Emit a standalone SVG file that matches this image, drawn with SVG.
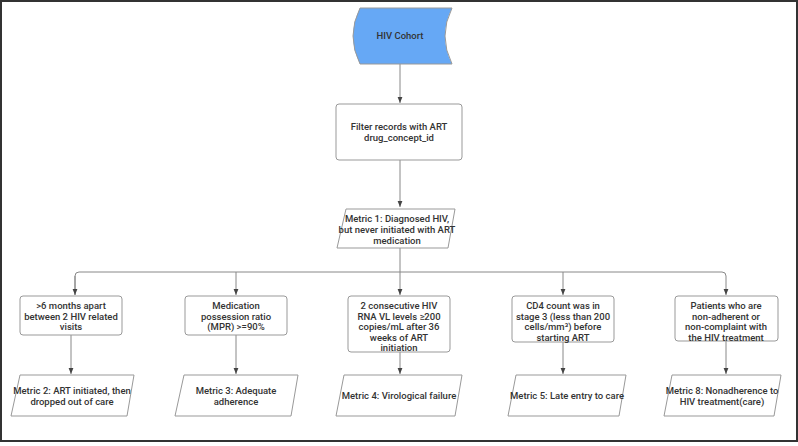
<svg xmlns="http://www.w3.org/2000/svg" width="798" height="446" viewBox="0 0 798 446">
<defs>
<style>
.n{fill:#fff;stroke:#999;stroke-width:1}
.t{font-family:Roboto,"Liberation Sans",sans-serif;font-size:9.5px;font-weight:500;fill:#333;text-anchor:middle}
.c{fill:none;stroke:#888;stroke-width:1}
</style>
<marker id="a" viewBox="0 0 10 10" refX="10" refY="5" markerWidth="6" markerHeight="6" orient="auto"><path d="M0,1 L10,5 L0,9 z" fill="#444"/></marker>
</defs>
<rect x="1" y="1" width="796" height="440" fill="#fff" stroke="#333" stroke-width="2"/>
<g id="connectors">
<path class="c" d="M400,64 V103" marker-end="url(#a)"/>
<path class="c" d="M400,160 V207" marker-end="url(#a)"/>
<path class="c" d="M400,248 V272"/>
<path class="c" d="M75,295 V276 Q75,272 79,272 H722 Q726,272 726,276 V295" marker-end="url(#a)"/>
<path class="c" d="M75,276 V295" marker-end="url(#a)"/>
<path class="c" d="M236,272 V295" marker-end="url(#a)"/>
<path class="c" d="M400,272 V295" marker-end="url(#a)"/>
<path class="c" d="M563,272 V295" marker-end="url(#a)"/>
<path class="c" d="M71,335 V374" marker-end="url(#a)"/>
<path class="c" d="M236,335 V374" marker-end="url(#a)"/>
<path class="c" d="M400,352 V374" marker-end="url(#a)"/>
<path class="c" d="M563,342 V374" marker-end="url(#a)"/>
<path class="c" d="M726,341 V374" marker-end="url(#a)"/>
</g>
<g id="cohort"><path d="M360,8 H452 Q438,36 452,64 H360 Q346,36 360,8 Z" fill="#66a8f5" stroke="#999"/><text class="t" x="400" y="39">HIV Cohort</text></g>
<g id="filter"><rect class="n" x="336" y="104" width="126" height="56" rx="3"/><text class="t" x="399" y="130">Filter records with ART</text><text class="t" x="399" y="141">drug_concept_id</text></g>
<g id="m1"><path class="n" d="M346,209 H455 L448,248 H337 Z"/><text class="t" x="397" y="222">Metric 1: Diagnosed HIV,</text><text class="t" x="397" y="233">but never initiated with ART</text><text class="t" x="397" y="244">medication</text></g>
<g id="b1"><rect class="n" x="20" y="296" width="102" height="39" rx="3"/><text class="t" x="71" y="309">&gt;6 months apart</text><text class="t" x="71" y="319.5">between 2 HIV related</text><text class="t" x="71" y="330">visits</text></g>
<g id="b2"><rect class="n" x="185" y="296" width="102" height="39" rx="3"/><text class="t" x="236" y="309">Medication</text><text class="t" x="236" y="319.5">possession ratio</text><text class="t" x="236" y="330">(MPR) &gt;=90%</text></g>
<g id="b3"><rect class="n" x="348" y="296" width="102" height="56" rx="3"/><text class="t" x="399" y="309">2 consecutive HIV</text><text class="t" x="399" y="319.5">RNA VL levels ≥200</text><text class="t" x="399" y="330">copies/mL after 36</text><text class="t" x="399" y="340.5">weeks of ART</text><text class="t" x="399" y="351">initiation</text></g>
<g id="b4"><rect class="n" x="512" y="296" width="102" height="46" rx="3"/><text class="t" x="563" y="309">CD4 count was in</text><text class="t" x="563" y="319.5">stage 3 (less than 200</text><text class="t" x="563" y="330">cells/mm³) before</text><text class="t" x="563" y="340.5">starting ART</text></g>
<g id="b5"><rect class="n" x="675" y="296" width="103" height="45" rx="3"/><text class="t" x="726" y="309">Patients who are</text><text class="t" x="726" y="319.5">non-adherent or</text><text class="t" x="726" y="330">non-complaint with</text><text class="t" x="726" y="340.5">the HIV treatment</text></g>
<g id="m2"><path class="n" d="M20,375 H134 L127,416 H11 Z"/><text class="t" x="72" y="394">Metric 2: ART initiated, then</text><text class="t" x="72" y="405">dropped out of care</text></g>
<g id="m3"><path class="n" d="M184,375 H298 L291,416 H175 Z"/><text class="t" x="236" y="394">Metric 3: Adequate</text><text class="t" x="236" y="405">adherence</text></g>
<g id="m4"><path class="n" d="M344,375 H462 L455,416 H336 Z"/><text class="t" x="399" y="399">Metric 4: Virological failure</text></g>
<g id="m5"><path class="n" d="M516,375 H626 L619,416 H508 Z"/><text class="t" x="567" y="399">Metric 5: Late entry to care</text></g>
<g id="m8"><path class="n" d="M672,375 H781 L774,416 H664 Z"/><text class="t" x="722" y="394">Metric 8: Nonadherence to</text><text class="t" x="722" y="405">HIV treatment(care)</text></g>
</svg>
